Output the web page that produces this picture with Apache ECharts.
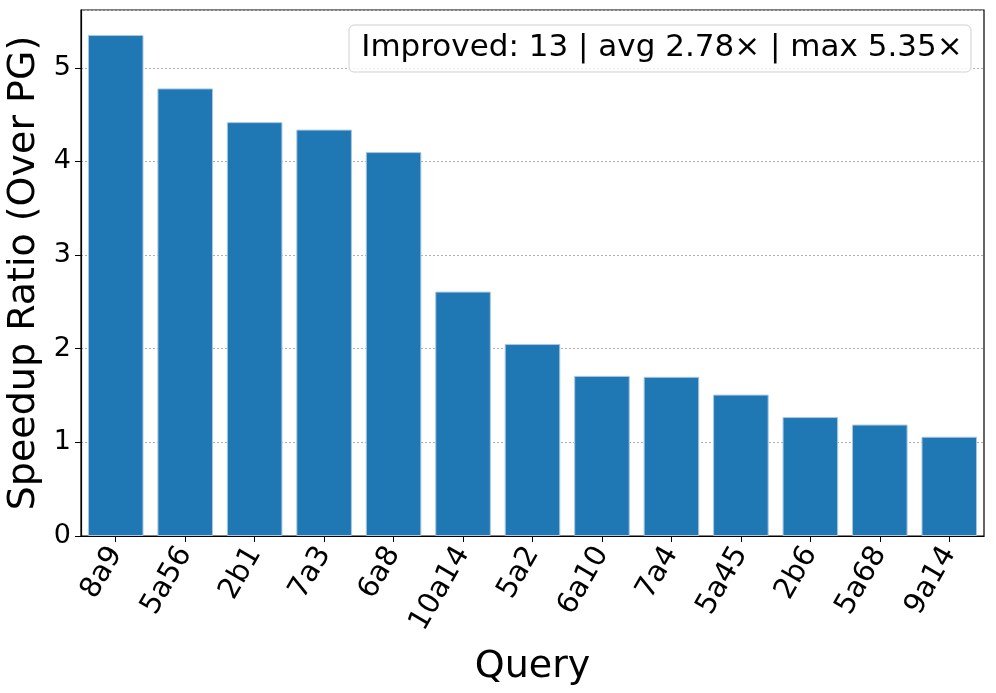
<!DOCTYPE html>
<html>
<head>
<meta charset="utf-8">
<script src="https://cdn.jsdelivr.net/npm/echarts@6/dist/echarts.min.js"></script>
<style>
  html, body { margin: 0; padding: 0; background: #fff; }
  #chart { width: 996px; height: 693px; }
</style>
</head>
<body>
<div id="chart"></div>
<script>
// query names, sorted by speedup
var queries = ["8a9", "5a56", "2b1", "7a3", "6a8", "10a14", "5a2", "6a10", "7a4", "5a45", "2b6", "5a68", "9a14"];
var speedups = [5.35, 4.78, 4.42, 4.34, 4.10, 2.61, 2.05, 1.71, 1.70, 1.51, 1.27, 1.19, 1.06];
var yTicks = [0, 1, 2, 3, 4, 5];

var font = "DejaVu Sans";
var maxVal = Math.max.apply(null, speedups);
var avgVal = speedups.reduce(function (a, b) { return a + b; }, 0) / speedups.length;

var myChart = echarts.init(document.getElementById("chart"));
var option = {
  animation: false,
  textStyle: { fontFamily: font },
  grid: {
    left: 81,
    right: 12,
    top: 10,
    bottom: 157,
    outerBoundsMode: "none",
    containLabel: false,
    show: true,
    borderColor: "#000",
    borderWidth: 1.2
  },
  graphic: [
    {
      type: "rect",
      shape: { x: 349, y: 25, width: 622, height: 47, r: 5 },
      style: { fill: "rgba(255,255,255,0.8)", stroke: "#d0d0d0", lineWidth: 1 },
      z: 10
    },
    {
      type: "text",
      x: 662,
      y: 48,
      style: {
        text: "Improved: " + speedups.length + " | avg " + avgVal.toFixed(2) + "× | max " + maxVal.toFixed(2) + "×",
        font: "31px DejaVu Sans",
        fill: "#000",
        align: "center",
        verticalAlign: "middle"
      },
      z: 11
    }
  ],
  xAxis: {
    type: "category",
    data: queries,
    name: "Query",
    nameLocation: "middle",
    nameGap: 112,
    nameTextStyle: { fontSize: 38, color: "#000", fontFamily: font },
    axisLine: { show: true, lineStyle: { color: "#000", width: 1.2 } },
    axisTick: { show: true, alignWithLabel: true, length: 6, lineStyle: { color: "#000" } },
    axisLabel: {
      rotate: 60,
      fontSize: 29,
      color: "#000",
      fontFamily: font,
      margin: 13,
      interval: 0
    },
    splitLine: { show: false }
  },
  yAxis: {
    type: "value",
    min: 0,
    max: maxVal * 1.05,
    interval: 1,
    name: "Speedup Ratio (Over PG)",
    nameLocation: "middle",
    nameGap: 38,
    nameTextStyle: { fontSize: 38, color: "#000", fontFamily: font },
    axisLine: { show: true, lineStyle: { color: "#000", width: 1.2 } },
    axisTick: { show: true, length: 6, lineStyle: { color: "#000" } },
    axisLabel: {
      fontSize: 27,
      color: "#000",
      fontFamily: font,
      margin: 10,
      showMaxLabel: false,
      formatter: function (v) { return yTicks.indexOf(v) >= 0 ? String(v) : ""; }
    },
    splitLine: { show: true, lineStyle: { color: "#b0b0b0", type: [2, 2], width: 1 } }
  },
  series: [
    {
      name: "Speedup",
      type: "bar",
      data: speedups,
      barWidth: "80%",
      itemStyle: { color: "#1f77b4", borderColor: "#a9c8e0", borderWidth: 1 }
    }
  ]
};
myChart.setOption(option);
</script>
</body>
</html>
